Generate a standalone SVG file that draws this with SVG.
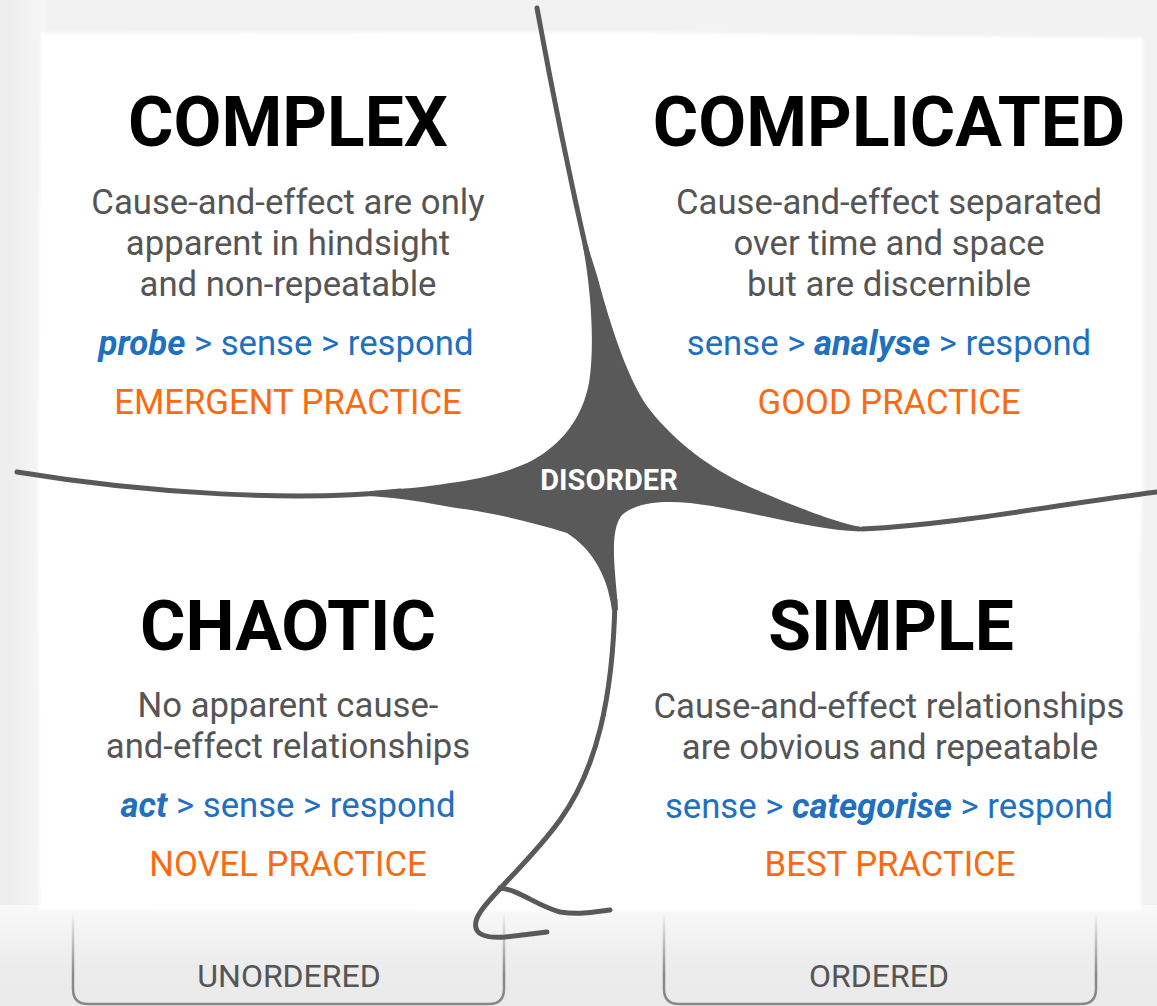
<svg xmlns="http://www.w3.org/2000/svg" width="1157" height="1006" viewBox="0 0 1157 1006">
<defs>
<style>
text{font-family:Roboto,"Liberation Sans",sans-serif;text-anchor:middle}
.title{font-size:69.5px;font-weight:bold;fill:#000}
.desc{font-size:34.7px;fill:#555}
.method{font-size:34.7px;fill:#1f70bf}
.method .k{font-weight:bold;font-style:italic}
.practice{font-size:34.7px;fill:#fb6a10}
.axis{font-size:32px;fill:#555}
.dis{font-size:29px;font-weight:bold;fill:#fff}
.line{fill:none;stroke:#595959;stroke-width:5;stroke-linecap:round}
.box{fill:none;stroke:url(#boxStroke);stroke-width:2.5}
</style>
<linearGradient id="bottomBg" x1="0" y1="0" x2="0" y2="1">
<stop offset="0" stop-color="#f9f9f9"/>
<stop offset="0.6" stop-color="#ececec"/>
<stop offset="1" stop-color="#eaeaea"/>
</linearGradient>
<linearGradient id="boxStroke" gradientUnits="userSpaceOnUse" x1="0" y1="912" x2="0" y2="975">
<stop offset="0" stop-color="#888" stop-opacity="0"/>
<stop offset="1" stop-color="#888" stop-opacity="1"/>
</linearGradient>
<linearGradient id="sideL" x1="0" y1="0" x2="1" y2="0">
<stop offset="0" stop-color="#ececec"/>
<stop offset="1" stop-color="#f6f6f6"/>
</linearGradient>
<filter id="soft" x="-5%" y="-5%" width="110%" height="110%"><feGaussianBlur stdDeviation="1.5"/></filter>
</defs>
<rect x="0" y="0" width="1157" height="1006" fill="#f2f2f2"/>
<rect x="0" y="0" width="45" height="1006" fill="url(#sideL)"/>
<rect x="0" y="905" width="1157" height="101" fill="url(#bottomBg)"/>
<g id="node-unordered">
<path class="box" d="M73,912 L73,989 Q73,1004 88,1004 L489,1004 Q504,1004 504,989 L504,912"/>
<text class="axis" x="289" y="987">UNORDERED</text>
</g>
<g id="node-ordered">
<path class="box" d="M664,912 L664,989 Q664,1004 679,1004 L1081,1004 Q1096,1004 1096,989 L1096,912"/>
<text class="axis" x="879" y="987">ORDERED</text>
</g>
<path d="M41,33 L600,32 L1143,38 L1143,480 L1140,560 L1141,911 L600,911 L40,910 L38,500 Z" fill="#fff" filter="url(#soft)"/>
<g id="connectors">
<path class="line" d="M537,8 Q563,150 592,275"/>
<path class="line" d="M17,472 C150,494 300,502 400,491"/>
<path class="line" d="M1157,492 C1060,504 960,524 862,529"/>
<path class="line" d="M615,600 C613,700 596,770 560,820 C540,848 515,872 497,892 C485,905 473,918 476,928 C478,936 490,938 505,937 L547,932"/>
<path class="line" d="M500,888 C520,890 535,905 560,912 C580,915 595,912 610,910"/>
</g>
<g id="node-disorder">
<path fill="#595959" d="M582.8,245 C591,290 595,345 589,383 C582,420 560,445 533,460 C510,472 480,479 450,483 C425,487 400,489.5 370,491 L370,496 C400,498 430,503 450,507 C480,511 520,518 567,533 C590,548 607,572 612,610 L618,610 C616,575 608,532 622,515 C635,503 660,500 690,503 C750,510 810,530 860,531.5 L860,526.5 C845,525.7 790,505 750,487 C710,468 675,442 650,410 C630,385 612,330 601,290 C596,270 591,258 587.8,245 Z"/>
<text class="dis" x="609" y="490">DISORDER</text>
</g>
<g id="node-complex">
<text class="title" x="288" y="146">COMPLEX</text>
<text class="desc" x="288" y="214">Cause-and-effect are only</text>
<text class="desc" x="288" y="255">apparent in hindsight</text>
<text class="desc" x="288" y="296">and non-repeatable</text>
<text class="method" x="286" y="355"><tspan class="k">probe</tspan> &gt; sense &gt; respond</text>
<text class="practice" x="288" y="414">EMERGENT PRACTICE</text>
</g>
<g id="node-complicated">
<text class="title" x="889" y="146">COMPLICATED</text>
<text class="desc" x="889" y="214">Cause-and-effect separated</text>
<text class="desc" x="889" y="255">over time and space</text>
<text class="desc" x="889" y="296">but are discernible</text>
<text class="method" x="889" y="355">sense &gt; <tspan class="k">analyse</tspan> &gt; respond</text>
<text class="practice" x="889" y="414">GOOD PRACTICE</text>
</g>
<g id="node-chaotic">
<text class="title" x="288" y="650">CHAOTIC</text>
<text class="desc" x="288" y="717">No apparent cause-</text>
<text class="desc" x="288" y="758">and-effect relationships</text>
<text class="method" x="288" y="817"><tspan class="k">act</tspan> &gt; sense &gt; respond</text>
<text class="practice" x="288" y="876">NOVEL PRACTICE</text>
</g>
<g id="node-simple">
<text class="title" x="891" y="650">SIMPLE</text>
<text class="desc" x="889" y="718">Cause-and-effect relationships</text>
<text class="desc" x="890" y="759">are obvious and repeatable</text>
<text class="method" x="889" y="818">sense &gt; <tspan class="k">categorise</tspan> &gt; respond</text>
<text class="practice" x="890" y="876">BEST PRACTICE</text>
</g>
</svg>
